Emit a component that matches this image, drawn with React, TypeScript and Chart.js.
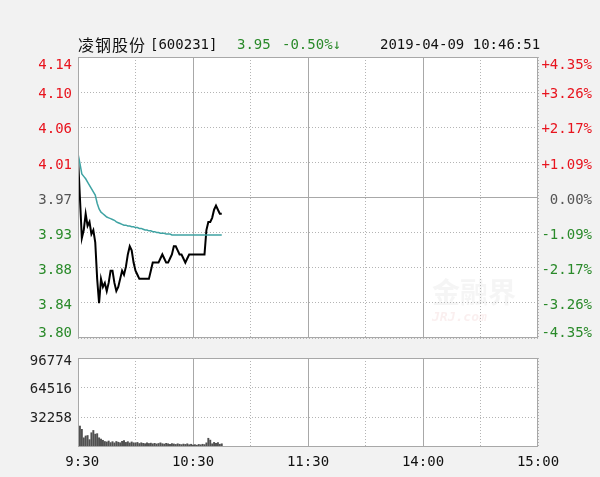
import React, { useEffect, useRef } from 'react';
import { Chart, registerables } from 'chart.js';

Chart.register(...registerables);

// ---------- data ----------
const stockName = '凌钢股份';
const stockCode = '[600231]';
const lastPrice = '3.95';
const changeText = '-0.50%↓';
const timestamp = '2019-04-09 10:46:51';

const prevClose = 3.97;
const limitPct = 4.35;

// bottom -> top
const priceTickLabels = ['3.80', '3.84', '3.88', '3.93', '3.97', '4.01', '4.06', '4.10', '4.14'];
const pctTickLabels = ['-4.35%', '-3.26%', '-2.17%', '-1.09%', '0.00%', '+1.09%', '+2.17%', '+3.26%', '+4.35%'];

const volumeMax = 96774;
const volumeTicks = [32258, 64516, 96774];
const volumeTickLabels = ['32258', '64516', '96774'];

// minutes from 9:30 (trading minutes, lunch break removed)
const timeTickMinutes = [0, 30, 60, 90, 120, 150, 180, 210, 240];
const timeTickLabels = [' 9:30', '', '10:30', '', '11:30', '', '14:00', '', '15:00'];
const solidTimeMinutes = [60, 120, 180];

// one value per minute, 9:30 .. 10:45
const prices = [
  4.02, 3.97, 3.92, 3.93, 3.95, 3.935, 3.94, 3.925, 3.93, 3.915,
  3.87, 3.84, 3.87, 3.86, 3.865, 3.855, 3.865, 3.88, 3.88, 3.865,
  3.855, 3.86, 3.87, 3.88, 3.875, 3.885, 3.9, 3.91, 3.905, 3.89,
  3.88, 3.875, 3.87, 3.87, 3.87, 3.87, 3.87, 3.87, 3.88, 3.89,
  3.89, 3.89, 3.89, 3.895, 3.9, 3.895, 3.89, 3.89, 3.895, 3.9,
  3.91, 3.91, 3.905, 3.9, 3.9, 3.895, 3.89, 3.895, 3.9, 3.9,
  3.9, 3.9, 3.9, 3.9, 3.9, 3.9, 3.9, 3.93, 3.94, 3.94,
  3.945, 3.955, 3.96, 3.955, 3.95, 3.95,
];

const avgPrices = [
  4.024, 4.012, 3.999, 3.996, 3.993, 3.989, 3.985, 3.981, 3.977, 3.973,
  3.963, 3.956, 3.952, 3.95, 3.948, 3.946, 3.945, 3.944, 3.943, 3.942,
  3.94, 3.939, 3.938, 3.937, 3.936, 3.936, 3.935, 3.935, 3.934, 3.934,
  3.933, 3.933, 3.932, 3.932, 3.931, 3.93, 3.93, 3.929, 3.929, 3.928,
  3.928, 3.927, 3.927, 3.926, 3.926, 3.926, 3.925, 3.925, 3.925, 3.924,
  3.924, 3.924, 3.924, 3.924, 3.924, 3.924, 3.924, 3.924, 3.924, 3.924,
  3.924, 3.924, 3.924, 3.924, 3.924, 3.924, 3.924, 3.924, 3.924, 3.924,
  3.924, 3.924, 3.924, 3.924, 3.924, 3.924,
];

const volumes = [
  96774, 22800, 19200, 10000, 12000, 12500, 8000, 15500, 18000, 14000,
  14500, 10000, 8500, 7300, 6000, 5500, 6500, 4800, 5800, 4500,
  6000, 5200, 4600, 6200, 7000, 5000, 5800, 4400, 5500, 4600,
  4200, 5000, 3800, 4600, 4000, 3600, 4400, 3800, 4200, 3500,
  4000, 3300, 3800, 4500, 3600, 3200, 4000, 3500, 3000, 3700,
  3300, 2800, 3500, 3000, 2600, 3200, 2800, 3500, 2500, 3000,
  2200, 2600, 2000, 2800, 2400, 3000, 2600, 4500, 9500, 7500,
  3500, 5000, 4000, 4800, 3000, 3500,
];

// ---------- styling ----------
const MONO = "'DejaVu Sans Mono', 'Liberation Mono', monospace";
const CJK = "'Noto Sans CJK SC', sans-serif";
const RED = '#e8141e';
const GREEN = '#2a8a2a';
const GRAY = '#555555';
const GRID_DOT = '#b4b4b4';
const GRID_SOLID = '#a8a8a8';
const FRAME = '#a8a8a8';
const W = 600;
const H = 477;

const framePlugin = {
  id: 'frame',
  beforeDraw(chart: any) {
    const { ctx, chartArea } = chart;
    const { left, top, right, bottom } = chartArea;
    ctx.save();
    ctx.fillStyle = '#ffffff';
    ctx.fillRect(left, top, right - left, bottom - top);
    ctx.restore();
  },
  afterDraw(chart: any) {
    const { ctx, chartArea } = chart;
    const l = Math.round(chartArea.left) + 0.5;
    const t = Math.round(chartArea.top) + 0.5;
    const r = Math.round(chartArea.right) - 0.5;
    const b = Math.round(chartArea.bottom) - 0.5;
    ctx.save();
    ctx.strokeStyle = FRAME;
    ctx.lineWidth = 1;
    ctx.setLineDash([]);
    ctx.strokeRect(l, t, r - l, b - t);
    ctx.restore();
  },
};

const watermarkPlugin = {
  id: 'watermark',
  beforeDatasetsDraw(chart: any) {
    const { ctx, chartArea } = chart;
    ctx.save();
    ctx.textAlign = 'left';
    ctx.textBaseline = 'alphabetic';
    ctx.font = `bold 28px ${CJK}`;
    ctx.fillStyle = 'rgba(170,170,170,0.12)';
    ctx.fillText('金融界', chartArea.right - 106, chartArea.bottom - 35);
    ctx.font = `italic bold 13px ${MONO}`;
    ctx.fillStyle = 'rgba(220,140,140,0.14)';
    ctx.fillText('JRJ.com', chartArea.right - 106, chartArea.bottom - 17);
    ctx.restore();
  },
};

function timeGridColor(c: any) {
  const v = c.tick ? c.tick.value : -1;
  return solidTimeMinutes.includes(v) ? GRID_SOLID : GRID_DOT;
}
function timeGridDash(c: any) {
  const v = c.tick ? c.tick.value : -1;
  return solidTimeMinutes.includes(v) ? [] : [1, 2];
}

function levelColor(c: any) {
  const mid = (priceTickLabels.length - 1) / 2;
  if (c.index === undefined) return GRAY;
  return c.index < mid ? GREEN : c.index > mid ? RED : GRAY;
}

function labelFont(c: any) {
  const last = priceTickLabels.length - 1;
  const lh = c.index === 0 ? '10px' : c.index === last ? '16px' : '5px';
  return { family: MONO, size: 14, lineHeight: lh };
}
function labelLines(text: string, index: number) {
  return index === 0 ? [text, ''] : ['', text];
}

export default function App() {
  const priceRef = useRef<HTMLCanvasElement | null>(null);
  const volRef = useRef<HTMLCanvasElement | null>(null);

  useEffect(() => {
    const yMin = prevClose * (1 - limitPct / 100);
    const yMax = prevClose * (1 + limitPct / 100);
    const n = priceTickLabels.length;
    const priceTickValues = priceTickLabels.map((_, i) => yMin + (i * (yMax - yMin)) / (n - 1));
    const pctTickValues = pctTickLabels.map((_, i) => -limitPct + (i * 2 * limitPct) / (n - 1));

    const priceChart = new Chart(priceRef.current as HTMLCanvasElement, {
      type: 'line',
      data: {
        datasets: [
          {
            label: '均价',
            data: avgPrices.map((p, i) => ({ x: i, y: p })),
            borderColor: '#3fa3a3',
            borderWidth: 1.5,
            pointRadius: 0,
            tension: 0,
            yAxisID: 'y',
          },
          {
            label: '价格',
            data: prices.map((p, i) => ({ x: i, y: p })),
            borderColor: '#000000',
            borderWidth: 2,
            pointRadius: 0,
            tension: 0,
            yAxisID: 'y',
          },
        ],
      },
      options: {
        animation: false,
        responsive: false,
        events: [],
        layout: { padding: { left: 8, right: 8, top: 57, bottom: H - 338 } },
        plugins: { legend: { display: false }, tooltip: { enabled: false }, title: { display: false } },
        scales: {
          x: {
            type: 'linear',
            min: 0,
            max: 240,
            afterBuildTicks: (s: any) => {
              s.ticks = timeTickMinutes.map((v) => ({ value: v }));
            },
            afterFit: (s: any) => {
              s.height = 0;
            },
            ticks: { display: false },
            grid: { color: timeGridColor, drawTicks: false, lineWidth: 1, offset: false },
            border: { display: false, dash: timeGridDash },
          },
          y: {
            type: 'linear',
            position: 'left',
            min: yMin,
            max: yMax,
            afterBuildTicks: (s: any) => {
              s.ticks = priceTickValues.map((v) => ({ value: v }));
            },
            afterFit: (s: any) => {
              s.width = 70;
            },
            grid: {
              color: (c: any) => (c.index === 4 ? GRID_SOLID : GRID_DOT),
              drawTicks: false,
              lineWidth: 1,
            },
            border: { display: false, dash: (c: any) => (c.index === 4 ? [] : [1, 2]) },
            ticks: {
              padding: 6,
              color: levelColor,
              font: labelFont,
              autoSkip: false,
              callback: (_v: any, i: number) => labelLines(priceTickLabels[i], i),
            },
          },
          yPct: {
            type: 'linear',
            position: 'right',
            min: -limitPct,
            max: limitPct,
            afterBuildTicks: (s: any) => {
              s.ticks = pctTickValues.map((v) => ({ value: v }));
            },
            afterFit: (s: any) => {
              s.width = 54;
            },
            grid: { display: false, drawTicks: false },
            border: { display: false },
            ticks: {
              padding: 2,
              crossAlign: 'far',
              color: levelColor,
              font: labelFont,
              autoSkip: false,
              callback: (_v: any, i: number) => labelLines(pctTickLabels[i], i),
            },
          },
        },
      } as any,
      plugins: [framePlugin, watermarkPlugin],
    } as any);

    const volChart = new Chart(volRef.current as HTMLCanvasElement, {
      type: 'bar',
      data: {
        datasets: [
          {
            label: '成交量',
            data: volumes.map((v, i) => ({ x: i, y: v })),
            backgroundColor: '#505050',
            borderWidth: 0,
            barThickness: 1.3,
          },
        ],
      },
      options: {
        animation: false,
        responsive: false,
        events: [],
        layout: { padding: { left: 8, right: 62, top: 358, bottom: 0 } },
        plugins: { legend: { display: false }, tooltip: { enabled: false }, title: { display: false } },
        scales: {
          x: {
            type: 'linear',
            min: 0,
            max: 240,
            offset: false,
            afterBuildTicks: (s: any) => {
              s.ticks = timeTickMinutes.map((v) => ({ value: v }));
            },
            afterFit: (s: any) => {
              s.height = H - 447;
            },
            ticks: {
              padding: 7,
              autoSkip: false,
              maxRotation: 0,
              minRotation: 0,
              color: '#111111',
              font: { family: MONO, size: 14 },
              callback: (_v: any, i: number) => timeTickLabels[i],
            },
            grid: { color: timeGridColor, drawTicks: false, lineWidth: 1, offset: false },
            border: { display: false, dash: timeGridDash },
          },
          y: {
            type: 'linear',
            position: 'left',
            min: 0,
            max: volumeMax,
            afterBuildTicks: (s: any) => {
              s.ticks = volumeTicks.map((v) => ({ value: v }));
            },
            afterFit: (s: any) => {
              s.width = 70;
            },
            grid: { color: GRID_DOT, drawTicks: false, lineWidth: 1 },
            border: { display: false, dash: [1, 2] },
            ticks: {
              padding: 6,
              autoSkip: false,
              color: '#222222',
              font: (c: any) => ({
                family: MONO,
                size: 14,
                lineHeight: c.index === volumeTicks.length - 1 ? '6px' : '3px',
              }),
              callback: (_v: any, i: number) => ['', volumeTickLabels[i]],
            },
          },
        },
      } as any,
      plugins: [framePlugin],
    } as any);

    return () => {
      priceChart.destroy();
      volChart.destroy();
    };
  }, []);

  const base: React.CSSProperties = {
    position: 'absolute',
    top: 36,
    height: 16,
    lineHeight: '16px',
    fontFamily: MONO,
    fontSize: 14,
    whiteSpace: 'pre',
  };

  return (
    <div
      style={{
        position: 'absolute',
        left: 0,
        top: 0,
        width: W,
        height: H,
        background: '#f2f2f2',
        overflow: 'hidden',
      }}
    >
      <canvas
        ref={priceRef}
        width={W}
        height={H}
        style={{ position: 'absolute', left: 0, top: 0, width: W, height: H }}
      />
      <canvas
        ref={volRef}
        width={W}
        height={H}
        style={{ position: 'absolute', left: 0, top: 0, width: W, height: H }}
      />
      <span style={{ ...base, left: 78, fontFamily: CJK, fontSize: 16, letterSpacing: 1, color: '#111' }}>
        {stockName}
      </span>
      <span style={{ ...base, left: 150, color: '#111' }}>{stockCode}</span>
      <span style={{ ...base, left: 237, color: GREEN }}>{lastPrice}</span>
      <span style={{ ...base, left: 282, color: GREEN }}>{changeText}</span>
      <span style={{ ...base, left: 380, color: '#111' }}>{timestamp}</span>
    </div>
  );
}
